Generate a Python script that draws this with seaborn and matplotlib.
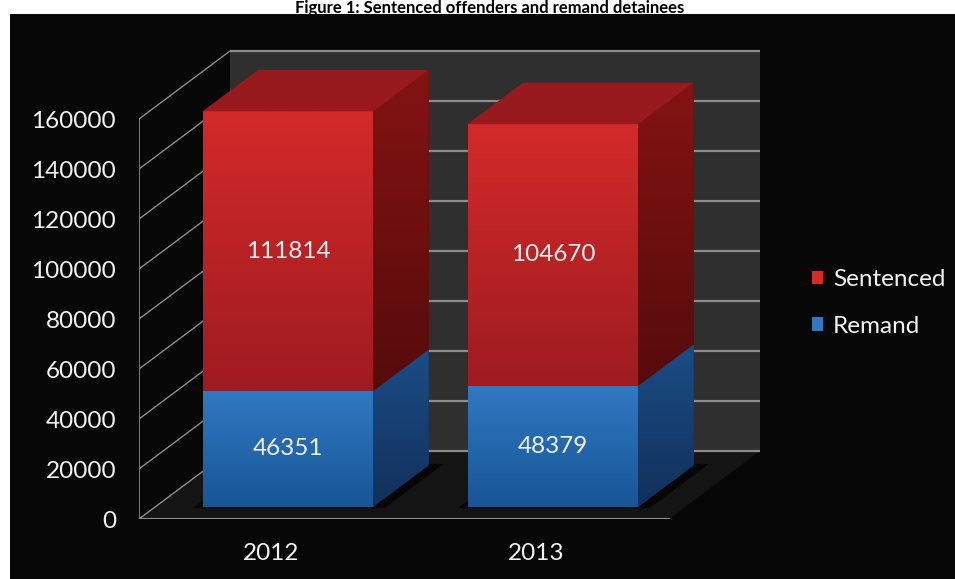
import numpy as np
import pandas as pd
import matplotlib
matplotlib.use("Agg")
import matplotlib.pyplot as plt
from matplotlib.patches import Polygon, Rectangle, Patch
from matplotlib.colors import LinearSegmentedColormap
import seaborn as sns

# ---- data ---------------------------------------------------------------
years = ["2012", "2013"]
remand = [46351, 48379]
sentenced = [111814, 104670]
legend_labels = ["Sentenced", "Remand"]
y_ticks = [0, 20000, 40000, 60000, 80000, 100000, 120000, 140000, 160000]
title = "Figure 1: Sentenced offenders and remand detainees"

# ---- style --------------------------------------------------------------
sns.set_theme(style="white")
plt.rcParams["font.family"] = ["Lato", "DejaVu Sans"]

TEXT = "#f2f2f2"
GRID = "#8c8c8c"
WALL = "#2f2f2f"
FLOOR = "#141414"
PANEL = "#070707"
RED_FRONT = ("#d42a2a", "#9e1b20")
RED_SIDE = ("#841313", "#560b0b")
RED_TOP = "#981a1f"
BLUE_FRONT = ("#3079c2", "#175596")
BLUE_SIDE = ("#1b4d86", "#11305a")
FS = 17.5

W, H = 955, 579
fig = plt.figure(figsize=(W / 100, H / 100), dpi=100)
fig.patch.set_facecolor("white")
fig.patches.append(Rectangle((10 / W, 0), 1 - 10 / W, (H - 14) / H,
                             transform=fig.transFigure, facecolor=PANEL,
                             edgecolor="none", zorder=-5))

# ---- oblique projection setup -------------------------------------------
PX_PER_CAT = 265.0
PX_PER_UNIT = 400.0 / 160000
XLIM = (-0.5, 2.0)
YLIM = (0, 200000)
ORIGIN = (139, 519)          # front plane: left edge, zero level (pixels)
DEPTH_PX = (91, 68)          # full floor depth
DX = DEPTH_PX[0] / PX_PER_CAT
DY = DEPTH_PX[1] / PX_PER_UNIT
T_FRONT = 0.18               # bar front face position inside the depth
T_BAR = 0.61                 # bar thickness as share of the depth
BAR_WIDTH = 0.644


def axes_rect(dx_px, dy_px):
    w = (XLIM[1] - XLIM[0]) * PX_PER_CAT
    h = (YLIM[1] - YLIM[0]) * PX_PER_UNIT
    return [(ORIGIN[0] + dx_px) / W, (H - ORIGIN[1] + dy_px) / H, w / W, h / H]


ax_front = fig.add_axes(axes_rect(0, 0))
ax_bars = fig.add_axes(axes_rect(T_FRONT * DEPTH_PX[0], T_FRONT * DEPTH_PX[1]))
for ax in (ax_front, ax_bars):
    ax.set_facecolor("none")


def P(x, v, t):
    return (x + t * DX, v + t * DY)


def gradient_fill(ax, clip_patch, verts, c_top, c_bottom, zorder):
    xs = [p[0] for p in verts]
    ys = [p[1] for p in verts]
    cmap = LinearSegmentedColormap.from_list("g", [c_top, c_bottom])
    grad = np.linspace(0, 1, 256)[:, None]
    im = ax.imshow(grad, extent=(min(xs), max(xs), min(ys), max(ys)),
                   origin="upper", aspect="auto", cmap=cmap,
                   interpolation="bilinear", zorder=zorder)
    im.set_clip_path(clip_patch)
    return im


# ---- room: floor, back wall, left wall ------------------------------------
x_lo, x_hi = -0.5, 1.5
top = y_ticks[-1]
ax_front.add_patch(Polygon([P(x_lo, 0, 0), P(x_hi, 0, 0), P(x_hi, 0, 1), P(x_lo, 0, 1)],
                           closed=True, facecolor=FLOOR, edgecolor="none", zorder=1))
ax_front.add_patch(Polygon([P(x_lo, 0, 1), P(x_hi, 0, 1), P(x_hi, top, 1), P(x_lo, top, 1)],
                           closed=True, facecolor=WALL, edgecolor="none", zorder=1))
for v in y_ticks:
    (a, b), (c, d) = P(x_lo, v, 1), P(x_hi, v, 1)
    ax_front.plot([a, c], [b, d], color=GRID, lw=1.6, zorder=2, solid_capstyle="butt")
    (a, b), (c, d) = P(x_lo, v, 0), P(x_lo, v, 1)
    ax_front.plot([a, c], [b, d], color=GRID, lw=1.0, zorder=2)
ax_front.plot([x_lo, x_lo], [0, top], color=GRID, lw=1.2, zorder=2)
ax_front.plot([x_lo, x_hi], [0, 0], color=GRID, lw=1.6, zorder=2)

# bar shadows on the floor
for i in range(len(years)):
    xl = i - BAR_WIDTH / 2 - 0.03
    xr = i + BAR_WIDTH / 2 + 0.05
    ta, tb = T_FRONT - 0.02, T_FRONT + T_BAR + 0.02
    ax_front.add_patch(Polygon([P(xl, 0, ta), P(xr, 0, ta), P(xr, 0, tb), P(xl, 0, tb)],
                               closed=True, facecolor="#060606", edgecolor="none",
                               zorder=1.5))

# ---- bars -----------------------------------------------------------------
df = pd.DataFrame({"year": years, "Remand": remand, "Sentenced": sentenced})
sns.barplot(data=df, x="year", y="Remand", color=BLUE_FRONT[1], width=BAR_WIDTH,
            saturation=1, errorbar=None, ax=ax_bars)
sns.barplot(data=df, x="year", y="Sentenced", bottom=df["Remand"].to_numpy(),
            color=RED_FRONT[1], width=BAR_WIDTH, saturation=1, errorbar=None,
            ax=ax_bars)

bdx, bdy = T_BAR * DX, T_BAR * DY
styles = [(BLUE_FRONT, BLUE_SIDE), (RED_FRONT, RED_SIDE)]
for k, (container, (front_c, side_c)) in enumerate(zip(ax_bars.containers, styles)):
    is_top = k == len(ax_bars.containers) - 1
    for rect in container.patches:
        x, y = rect.get_x(), rect.get_y()
        w, h = rect.get_width(), rect.get_height()
        rect.set_edgecolor("none")
        front = [(x, y), (x + w, y), (x + w, y + h), (x, y + h)]
        gradient_fill(ax_bars, rect, front, front_c[0], front_c[1], 2)
        side = [(x + w, y), (x + w + bdx, y + bdy), (x + w + bdx, y + h + bdy), (x + w, y + h)]
        sp = Polygon(side, closed=True, facecolor=side_c[1], edgecolor="none", zorder=2)
        ax_bars.add_patch(sp)
        gradient_fill(ax_bars, sp, side, side_c[0], side_c[1], 2.1)
        if is_top:
            tp = [(x, y + h), (x + w, y + h), (x + w + bdx, y + h + bdy), (x + bdx, y + h + bdy)]
            ax_bars.add_patch(Polygon(tp, closed=True, facecolor=RED_TOP,
                                      edgecolor="none", zorder=2.2))
    labels = ax_bars.bar_label(container, label_type="center", color=TEXT, fontsize=FS)
    for t in labels:
        t.set_zorder(5)

for ax in (ax_front, ax_bars):
    ax.set_xlim(*XLIM)
    ax.set_ylim(*YLIM)
ax_bars.set_axis_off()

# ---- axes text ------------------------------------------------------------
for s in ax_front.spines.values():
    s.set_visible(False)
ax_front.set_xticks(range(len(years)), years)
ax_front.set_yticks(y_ticks, [str(v) for v in y_ticks])
ax_front.tick_params(axis="both", length=0, colors=TEXT, labelsize=FS)
ax_front.tick_params(axis="y", pad=16.5)
ax_front.tick_params(axis="x", pad=17.5)
ax_front.set_xlabel("")
ax_front.set_ylabel("")

handles = [Patch(facecolor=RED_FRONT[0], edgecolor="none", label=legend_labels[0]),
           Patch(facecolor=BLUE_FRONT[0], edgecolor="none", label=legend_labels[1])]
fig.legend(handles=handles, loc="center left", bbox_to_anchor=(812 / W, 1 - 303 / H),
           frameon=False, fontsize=FS, labelcolor=TEXT, handlelength=0.47,
           handleheight=0.47, handletextpad=0.4, labelspacing=1.05,
           borderpad=0, borderaxespad=0)

fig.text(490 / W, 1 - 0.5 / H, title, ha="center", va="top", fontsize=12,
         fontweight="bold", color="black")

fig.savefig("out.png", dpi=100, facecolor=fig.get_facecolor())
